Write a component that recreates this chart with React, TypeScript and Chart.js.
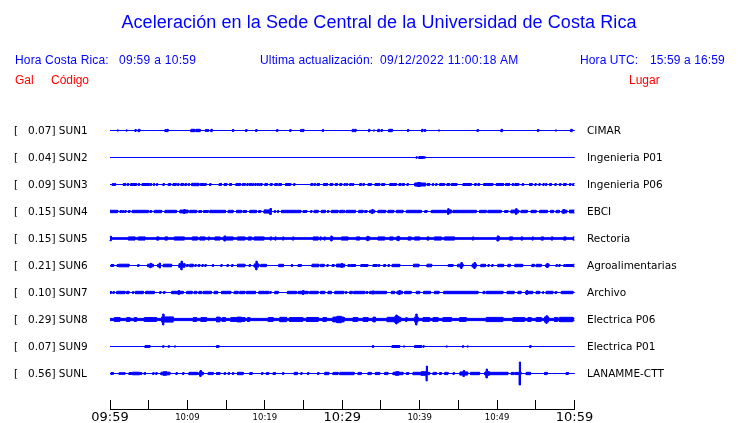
import React, { useEffect, useRef } from 'react';
import { Chart, registerables } from 'chart.js';

Chart.register(...registerables);

// ---------- data ----------
const stationCodes = ['SUN1', 'SUN2', 'SUN3', 'SUN4', 'SUN5', 'SUN6', 'SUN7', 'SUN8', 'SUN9', 'SUNL'];
const galValues = ['0.07', '0.04', '0.09', '0.15', '0.15', '0.21', '0.10', '0.29', '0.07', '0.56'];
const places = ['CIMAR', 'Ingenieria P01', 'Ingenieria P06', 'EBCI', 'Rectoria', 'Agroalimentarias', 'Archivo', 'Electrica P06', 'Electrica P01', 'LANAMME-CTT'];
const timeTickLabels = ['09:59', '10:09', '10:19', '10:29', '10:39', '10:49', '10:59'];
const minutesSpan = 60;

// background noise level per station (relative amplitude)
const baseLevels = [0, 0, 0, 0, 0.8, 0, 0, 1.1, 0, 0];

// bursts: [start minute, end minute, amplitude] or [minute, amplitude] for a single spike
type Burst = number[];

const sun1Bursts: Burst[] = [
  [1.0, 0.6], [2.15, 0.6], [3.3, 1], [3.65, 3.85, 1.2], [7.1, 7.25, 1], [7.35, 7.5, 1.2], [10.45, 10.95, 1.2],
  [11.1, 11.65, 1.2], [12.4, 1], [12.65, 1], [13.03, 13.2, 1.2], [15.9, 1], [17.6, 1], [18.9, 1], [21.6, 1],
  [23.3, 1], [24.7, 1], [24.95, 1.2], [27.5, 1], [31.3, 31.48, 1.2], [31.6, 31.78, 1.2], [33.4, 33.55, 1.2],
  [34.1, 0.6], [34.6, 34.8, 1.2], [35.1, 1], [36.0, 36.47, 1.2], [38.5, 1], [40.26, 40.43, 1.2], [40.7, 1],
  [42.5, 0.6], [47.5, 1], [50.5, 50.7, 1.2], [55.3, 1], [57.6, 0.6], [59.5, 59.7, 1.2],
];

const sun2Bursts: Burst[] = [[39.6, 0.7], [39.9, 40.5, 1], [40.65, 0.7]];

const sun3Bursts: Burst[] = [
  [0.3, 0.47, 1], [0.65, 1], [1.72, 2.02, 1], [2.24, 2.41, 1], [2.67, 3.44, 1], [3.74, 1], [4.13, 5.08, 1],
  [5.29, 1], [5.68, 1], [6.02, 6.15, 1], [6.84, 7.01, 1], [7.53, 7.83, 1], [8.13, 8.56, 1], [8.82, 1],
  [9.16, 9.5, 1], [9.68, 9.89, 1], [10.19, 1], [10.54, 11.48, 1.2], [11.66, 12.17, 1], [12.34, 1], [12.95, 1],
  [14.1, 14.4, 1], [14.75, 15.1, 1], [15.44, 15.7, 1], [16.26, 16.86, 1], [17.16, 1], [17.4, 1], [17.76, 1],
  [18.0, 18.28, 1], [18.5, 1], [18.8, 1], [19.1, 1], [19.4, 1], [19.57, 1], [20.0, 20.34, 1], [20.69, 20.95, 1],
  [21.29, 21.63, 1], [21.8, 22.15, 1], [22.67, 23.35, 1], [23.8, 1], [25.94, 26.2, 1], [26.45, 1],
  [26.75, 27.05, 1], [27.57, 28.09, 1], [28.43, 28.77, 1], [29.1, 29.38, 1], [29.68, 29.94, 1], [30.32, 1],
  [30.62, 1], [30.97, 31.18, 1], [31.4, 1], [32.26, 32.52, 1], [32.77, 1], [33.33, 33.76, 1], [34.24, 34.84, 1],
  [35.1, 35.48, 1], [36.13, 36.99, 1], [37.33, 37.59, 1], [37.76, 38.02, 1], [38.45, 1], [39.35, 40.77, 1.5],
  [39.7, 40.1, 2], [40.99, 41.29, 1], [41.72, 1], [42.15, 1], [42.58, 43.23, 1], [43.53, 43.87, 1],
  [44.09, 44.82, 1], [45.59, 46.67, 1], [47.1, 47.31, 1], [47.53, 47.74, 1], [48.26, 49.46, 1], [49.89, 50.84, 1],
  [51.1, 51.61, 1], [51.96, 52.13, 1], [52.3, 52.8, 1], [53.25, 53.42, 1], [54.19, 54.54, 1], [54.97, 1],
  [55.48, 1], [56.0, 1], [56.34, 1], [56.77, 57.03, 1], [57.55, 1], [58.06, 58.24, 1], [58.58, 58.92, 1],
  [59.35, 59.53, 1], [59.78, 60, 1],
];

const sun4Bursts: Burst[] = [
  [0, 1.0, 1.2], [1.3, 1.5, 1], [1.7, 1], [2.0, 1], [2.37, 2.58, 1], [2.88, 4.95, 1.2], [5.16, 5.38, 1],
  [5.72, 6.67, 1.2], [7.1, 8.6, 1.2], [9.03, 10.1, 1.4], [9.6, 2], [10.3, 11.2, 1.2], [11.48, 11.83, 1],
  [12.09, 12.69, 1], [12.9, 14.92, 1.2], [15.27, 15.91, 1.2], [16.34, 17.0, 1.2], [17.2, 17.63, 1],
  [18.06, 18.92, 1.2], [19.2, 19.48, 1], [19.9, 20.86, 1.6], [20.73, 3], [21.3, 1], [21.7, 1],
  [22.15, 24.65, 1.2], [24.95, 25.42, 1], [26.0, 1], [26.37, 26.88, 1.2], [27.3, 27.83, 1.2], [28.09, 28.26, 1],
  [28.6, 29.46, 1.2], [29.68, 30.3, 1.2], [30.5, 31.7, 1.2], [32.13, 32.69, 1.2], [32.9, 33.2, 1],
  [33.55, 34.19, 1.2], [33.9, 2], [34.62, 35.61, 1.2], [35.91, 36.65, 1.2], [36.99, 37.85, 1.2],
  [38.28, 40.22, 1.2], [40.65, 40.95, 1], [41.51, 43.4, 1.2], [43.53, 44.09, 1.6], [43.7, 2.8],
  [44.3, 47.31, 1.2], [47.74, 48.6, 1.2], [48.82, 50.54, 1.2], [50.97, 51.4, 1], [51.8, 52.8, 1.4],
  [52.47, 2.8], [53.1, 53.9, 1.2], [54.4, 55.05, 1.2], [55.5, 56.5, 1.2], [56.9, 57.3, 1.2], [57.63, 58.06, 1.2],
  [58.4, 59.0, 1.4], [58.6, 2], [59.35, 60, 1.4],
];

const sun5Bursts: Burst[] = [
  [0, 0.2, 1.6], [0.1, 2.2], [2.37, 3.23, 1.6], [3.66, 4.52, 1.6], [6.02, 6.32, 1.6], [7.1, 7.44, 1.6],
  [8.3, 9.6, 1.6], [10.62, 11.3, 1.6], [11.6, 12.26, 1.6], [12.77, 1.6], [13.55, 14.2, 1.6], [14.62, 15.9, 1.6],
  [14.84, 2.6], [16.47, 17.42, 1.6], [17.85, 18.28, 1.6], [18.62, 19.91, 1.6], [20.69, 20.86, 1.6],
  [21.38, 1.6], [22.37, 1.6], [23.66, 1.6], [26.24, 26.88, 1.6], [27.2, 1.6], [27.74, 1.6], [28.5, 28.77, 1.8],
  [28.6, 2.5], [29.9, 30.75, 1.6], [31.83, 32.26, 1.6], [33.1, 33.55, 1.6], [33.3, 2.2], [34.62, 35.48, 1.6],
  [36.13, 36.56, 1.6], [36.99, 37.42, 1.6], [37.25, 2.2], [38.5, 38.9, 1.6], [39.35, 40.0, 1.6],
  [40.95, 41.2, 1.6], [41.9, 42.8, 1.6], [43.2, 44.5, 1.6], [46.9, 1.6], [50.0, 50.3, 1.8], [50.1, 2.6],
  [51.6, 52.0, 1.6], [53.1, 53.3, 1.6], [54.6, 1.6], [55.7, 56.0, 1.6], [57.0, 57.2, 1.6], [58.6, 58.9, 1.6],
  [59.8, 60, 1.6],
];

const sun6Bursts: Burst[] = [
  [0.13, 0.47, 1], [1.0, 1], [1.16, 2.45, 1.3], [3.66, 1], [4.86, 5.6, 1.3], [5.25, 2.2], [6.15, 6.5, 1.3],
  [6.45, 2.5], [6.88, 7.96, 1.3], [8.9, 9.68, 1.8], [9.25, 4.3], [9.9, 10.1, 1], [10.3, 10.75, 1.3], [11.05, 1],
  [11.4, 11.6, 1], [11.96, 1], [12.34, 1], [13.3, 1], [14.4, 1], [15.2, 1], [15.8, 1], [16.47, 17.42, 1.3],
  [18.06, 1], [18.62, 19.23, 1.6], [18.92, 4.3], [19.48, 20.2, 1.2], [21.8, 22.4, 1.2], [23.5, 1],
  [24.3, 24.7, 1], [26.1, 26.97, 1.3], [27.2, 27.66, 1.2], [28.1, 1], [28.7, 28.95, 1], [29.25, 30.3, 1.4],
  [29.95, 2], [30.75, 30.97, 1], [31.1, 31.7, 1], [32.4, 33.3, 1], [33.98, 34.5, 1], [34.75, 1],
  [35.35, 35.6, 1], [36.0, 1], [36.45, 37.42, 1.2], [39.2, 39.9, 1.3], [40.95, 41.55, 1.3], [43.7, 44.3, 1],
  [44.9, 45.6, 1.3], [45.4, 3], [46.8, 47.31, 1.6], [47.1, 3], [47.9, 48.5, 1.2], [48.9, 1], [49.4, 1],
  [50.1, 50.84, 1.2], [51.4, 51.7, 1.2], [52.3, 53.3, 1.2], [54.5, 54.8, 1.2], [55.05, 55.7, 1.2],
  [56.3, 56.7, 1.3], [56.5, 2], [57.7, 1], [58.06, 1], [58.7, 1], [58.9, 59.8, 1], [59.8, 60, 1.2],
];

const sun7Bursts: Burst[] = [
  [0, 0.2, 1], [0.47, 1], [0.86, 1.94, 1.2], [2.15, 2.45, 1.2], [3.0, 1], [3.3, 4.3, 1.2], [4.6, 5.72, 1.2],
  [6.5, 1], [6.9, 7.1, 1], [7.96, 9.46, 1.2], [8.9, 2], [9.9, 10.62, 1.2], [10.88, 11.2, 1.2],
  [11.48, 11.83, 1.2], [12.04, 13.1, 1.2], [13.46, 13.9, 1.2], [14.4, 15.6, 1.2], [16.04, 16.56, 1.2],
  [16.77, 17.42, 1.2], [17.63, 18.8, 1.2], [19.23, 19.9, 1.2], [20.0, 20.5, 1.2], [20.73, 1], [21.29, 21.72, 1.2],
  [22.92, 24.09, 1.2], [24.3, 25.6, 1.2], [24.95, 2], [25.8, 26.88, 1.2], [27.2, 27.74, 1.2], [28.17, 28.6, 1.2],
  [29.03, 30.2, 1.2], [30.5, 1], [30.97, 31.3, 1.2], [31.48, 32.9, 1.2], [33.1, 33.3, 1], [33.55, 35.7, 1.2],
  [33.98, 1.6], [36.35, 36.77, 1.2], [37.08, 37.76, 1.3], [37.4, 2], [38.06, 38.9, 1.2], [39.57, 40.0, 1.2],
  [40.5, 41.4, 1.2], [41.9, 42.5, 1.2], [43.1, 47.53, 1.2], [48.2, 48.4, 1.2], [48.6, 50.75, 1.2],
  [51.3, 52.2, 1.2], [52.7, 53.1, 1.2], [53.7, 54.6, 1.2], [53.85, 2], [55.05, 55.5, 1.2], [55.9, 56.0, 1],
  [56.34, 57.2, 1.2], [57.5, 57.7, 1], [58.3, 59.8, 1.2],
];

const sun8Bursts: Burst[] = [
  [0.56, 1.29, 1.9], [2.15, 2.58, 1.9], [3.14, 3.44, 1.9], [4.43, 6.02, 1.9], [6.67, 8.17, 2.6], [6.88, 5.5],
  [10.75, 11.18, 1.9], [11.74, 12.47, 1.9], [13.76, 14.2, 2.4], [14.5, 14.92, 1.9], [15.6, 17.42, 1.9],
  [16.4, 17.0, 2.4], [17.76, 18.06, 1.9], [20.43, 21.08, 1.9], [21.94, 22.8, 2.2], [23.2, 24.9, 1.9],
  [25.4, 26.9, 2], [27.5, 27.96, 1.9], [28.8, 30.24, 2.4], [29.3, 29.9, 3.2], [31.4, 32.0, 1.9],
  [32.7, 33.33, 1.9], [33.98, 34.28, 2.4], [35.8, 37.55, 2.2], [36.8, 37.3, 3.2], [37.0, 4.5], [38.28, 1.9],
  [39.35, 39.78, 2.6], [39.57, 5.5], [40.43, 41.29, 1.9], [41.72, 42.37, 1.9], [43.0, 44.09, 1.9],
  [45.16, 46.0, 1.9], [48.6, 50.75, 2.1], [52.04, 53.55, 1.9], [53.98, 54.4, 1.9], [55.05, 55.7, 1.9],
  [56.13, 56.65, 2.6], [56.4, 3.8], [57.4, 57.85, 1.9], [58.06, 59.8, 2.2],
];

const sun9Bursts: Burst[] = [
  [4.52, 5.16, 1], [6.88, 0.8], [7.6, 0.8], [8.4, 0.6], [13.76, 14.06, 1], [33.98, 1], [36.43, 37.42, 1],
  [37.98, 0.6], [39.35, 40.25, 1], [40.5, 0.8], [43.5, 0.6], [45.6, 0.8], [46.2, 0.6], [54.3, 1],
];

const sunLBursts: Burst[] = [
  [0.13, 0.43, 1], [1.16, 1.94, 0.8], [2.45, 4.09, 1], [2.9, 3.8, 1.3], [4.5, 1], [5.6, 1], [6.0, 1],
  [6.58, 7.74, 1.3], [6.9, 7.3, 1.8], [8.6, 1], [9.46, 1], [10.2, 11.3, 1.2], [11.48, 12.04, 1.4], [11.7, 3],
  [12.69, 13.33, 1.1], [13.76, 14.2, 1], [14.84, 1], [15.35, 1], [15.9, 1], [16.47, 17.2, 1.2], [18.06, 18.37, 1],
  [19.66, 1], [20.2, 20.5, 1], [21.08, 21.38, 1], [22.37, 1], [23.8, 24.2, 1.2], [24.73, 1], [25.6, 1],
  [26.9, 1], [27.74, 28.26, 1.2], [28.8, 29.46, 1.1], [29.68, 31.53, 1.2], [32.04, 32.47, 1.1],
  [33.33, 33.76, 1.1], [34.28, 34.84, 1.1], [35.48, 35.9, 1.1], [36.56, 37.85, 1.2], [36.9, 37.3, 1.8],
  [38.28, 38.58, 1], [39.14, 41.29, 1.2], [40.2, 40.9, 1.8], [40.9, 7.5], [41.72, 42.15, 1.1],
  [42.58, 42.8, 1], [43.23, 43.66, 1.1], [44.4, 1], [45.2, 46.2, 1.6], [45.7, 3], [46.56, 47.74, 1.2],
  [48.39, 51.4, 1.2], [48.5, 49.0, 1.8], [48.67, 4.5], [51.83, 52.17, 1.1], [52.3, 53.1, 1.1], [52.95, 11.5],
  [53.76, 54.32, 1.2], [56.13, 56.47, 1.1], [58.92, 59.2, 1],
];

const stationBursts: Burst[][] = [
  sun1Bursts, sun2Bursts, sun3Bursts, sun4Bursts, sun5Bursts,
  sun6Bursts, sun7Bursts, sun8Bursts, sun9Bursts, sunLBursts,
];

// ---------- style ----------
const TRACE_COLOR = '#0000ff';
const SPIKE_WIDTH = 0.15; // minutes covered by a single spike
const AMP_TO_ROW = 1 / 27; // amplitude units -> row units
const ROW_PX = 27;
const PLOT_TOP = 117;
const PLOT_BOTTOM = 409;
const Y_MIN = 9 - 278.5 / ROW_PX;
const Y_MAX = Y_MIN + (PLOT_BOTTOM - PLOT_TOP) / ROW_PX;

function burstSpan(b: Burst): [number, number, number] {
  if (b.length === 2) return [b[0] - SPIKE_WIDTH / 2, b[0] + SPIKE_WIDTH / 2, b[1]];
  return [b[0], b[1], b[2]];
}

// stepped envelope: a level holds from each cut until the next one; vertical edges are explicit
function envelope(bursts: Burst[], base: number) {
  const spans = bursts.map(burstSpan);
  const cuts = new Set<number>([0, minutesSpan]);
  spans.forEach(([s, e]) => {
    cuts.add(Math.max(0, Math.min(minutesSpan, s)));
    cuts.add(Math.max(0, Math.min(minutesSpan, e)));
  });
  const xs = Array.from(cuts).sort((a, b) => a - b);
  const levels = xs.map((x) => {
    let a = base;
    spans.forEach(([s, e, amp]) => {
      if (x >= s && x < e && amp > a) a = amp;
    });
    return a;
  });
  levels[levels.length - 1] = levels.length > 1 ? levels[levels.length - 2] : base;
  const pts: { x: number; a: number }[] = [];
  xs.forEach((x, i) => {
    if (i > 0 && levels[i - 1] !== levels[i]) pts.push({ x, a: levels[i - 1] });
    pts.push({ x, a: levels[i] });
  });
  return pts;
}

function ChartView() {
  const ref = useRef<HTMLCanvasElement | null>(null);
  useEffect(() => {
    if (!ref.current) return;
    const datasets: any[] = [];
    stationBursts.forEach((bursts, i) => {
      const row = 9 - i;
      const env = envelope(bursts, baseLevels[i]);
      const common = {
        type: 'line',
        borderColor: TRACE_COLOR,
        backgroundColor: TRACE_COLOR,
        borderWidth: 1,
        borderJoinStyle: 'miter',
        pointRadius: 0,
        tension: 0,
        clip: false,
      };
      datasets.push({
        ...common,
        label: stationCodes[i] + ' +',
        data: env.map((p) => ({ x: p.x, y: row + p.a * AMP_TO_ROW })),
        fill: false,
      });
      datasets.push({
        ...common,
        label: stationCodes[i] + ' -',
        data: env.map((p) => ({ x: p.x, y: row - p.a * AMP_TO_ROW })),
        fill: '-1',
      });
    });

    const chart = new Chart(ref.current, {
      type: 'line',
      data: { datasets },
      options: {
        responsive: false,
        animation: false,
        events: [],
        layout: { padding: { left: 110, right: 165.5, top: PLOT_TOP, bottom: 0 } },
        plugins: { legend: { display: false }, tooltip: { enabled: false }, title: { display: false } },
        scales: {
          x: {
            type: 'linear',
            min: 0,
            max: minutesSpan,
            afterFit: (s: any) => { s.height = 423 - PLOT_BOTTOM; },
            grid: {
              drawOnChartArea: false,
              drawTicks: true,
              tickLength: -9,
              color: '#000000',
              lineWidth: 1,
            },
            border: { display: true, color: '#000000', width: 1 },
            ticks: {
              stepSize: 5,
              autoSkip: false,
              maxRotation: 0,
              padding: 10,
              color: '#000000',
              font: (ctx: any) => {
                const big = ctx.tick && ctx.tick.value % 30 === 0;
                return big
                  ? { family: 'DejaVu Sans', size: 13, lineHeight: 1.2 }
                  : { family: 'DejaVu Sans', size: 8.5, lineHeight: 1.85 };
              },
              callback: (v: any) => {
                const n = Number(v);
                return n % 10 === 0 ? timeTickLabels[n / 10] : '';
              },
            },
          },
          y: {
            type: 'linear',
            display: false,
            min: Y_MIN,
            max: Y_MAX,
          },
        },
      } as any,
    });
    return () => chart.destroy();
  }, []);
  return <canvas ref={ref} width={740} height={423} style={{ position: 'absolute', left: 0, top: 0 }} />;
}

const headerFont = '"Liberation Sans", Arial, sans-serif';
const labelFont = '"DejaVu Sans", sans-serif';

function Txt(props: { x: number; y: number; size: number; color: string; font: string; children: any; align?: string; spacing?: number }) {
  const { x, y, size, color, font, children, align, spacing } = props;
  const style: any = {
    position: 'absolute',
    top: y - size,
    height: size * 2,
    lineHeight: size * 2 + 'px',
    fontSize: size,
    fontFamily: font,
    color,
    whiteSpace: 'pre',
    letterSpacing: spacing ? spacing + 'px' : undefined,
  };
  if (align === 'center') {
    style.left = x - 400;
    style.width = 800;
    style.textAlign = 'center';
  } else {
    style.left = x;
  }
  return <div style={style}>{children}</div>;
}

export default function App() {
  return (
    <div style={{ position: 'absolute', left: 0, top: 0, width: 740, height: 423, background: '#ffffff', overflow: 'hidden' }}>
      <ChartView />
      <Txt x={379} y={22} size={18} color="#0000ff" font={headerFont} align="center" spacing={0.08}>
        Aceleración en la Sede Central de la Universidad de Costa Rica
      </Txt>
      <Txt x={15} y={60} size={12} color="#0000ff" font={headerFont} spacing={0.15}>Hora Costa Rica:</Txt>
      <Txt x={119} y={60} size={12} color="#0000ff" font={headerFont} spacing={0.3}>09:59 a 10:59</Txt>
      <Txt x={260} y={60} size={12} color="#0000ff" font={headerFont} spacing={0.15}>Ultima actualización:</Txt>
      <Txt x={380} y={60} size={12} color="#0000ff" font={headerFont} spacing={0.4}>09/12/2022 11:00:18 AM</Txt>
      <Txt x={580} y={60} size={12} color="#0000ff" font={headerFont} spacing={0.1}>Hora UTC:</Txt>
      <Txt x={650} y={60} size={12} color="#0000ff" font={headerFont} spacing={0.1}>15:59 a 16:59</Txt>
      <Txt x={15} y={80} size={12} color="#ff0000" font={headerFont}>Gal</Txt>
      <Txt x={51} y={80} size={12} color="#ff0000" font={headerFont}>Código</Txt>
      <Txt x={629} y={80} size={12} color="#ff0000" font={headerFont}>Lugar</Txt>
      {stationCodes.map((code, i) => (
        <React.Fragment key={code}>
          <Txt x={14} y={130.5 + 27 * i} size={10.5} color="#000000" font={labelFont}>[</Txt>
          <Txt x={28} y={130.5 + 27 * i} size={10.5} color="#000000" font={labelFont}>{galValues[i] + '] ' + code}</Txt>
          <Txt x={587} y={130.5 + 27 * i} size={10.5} color="#000000" font={labelFont}>{places[i]}</Txt>
        </React.Fragment>
      ))}
    </div>
  );
}
